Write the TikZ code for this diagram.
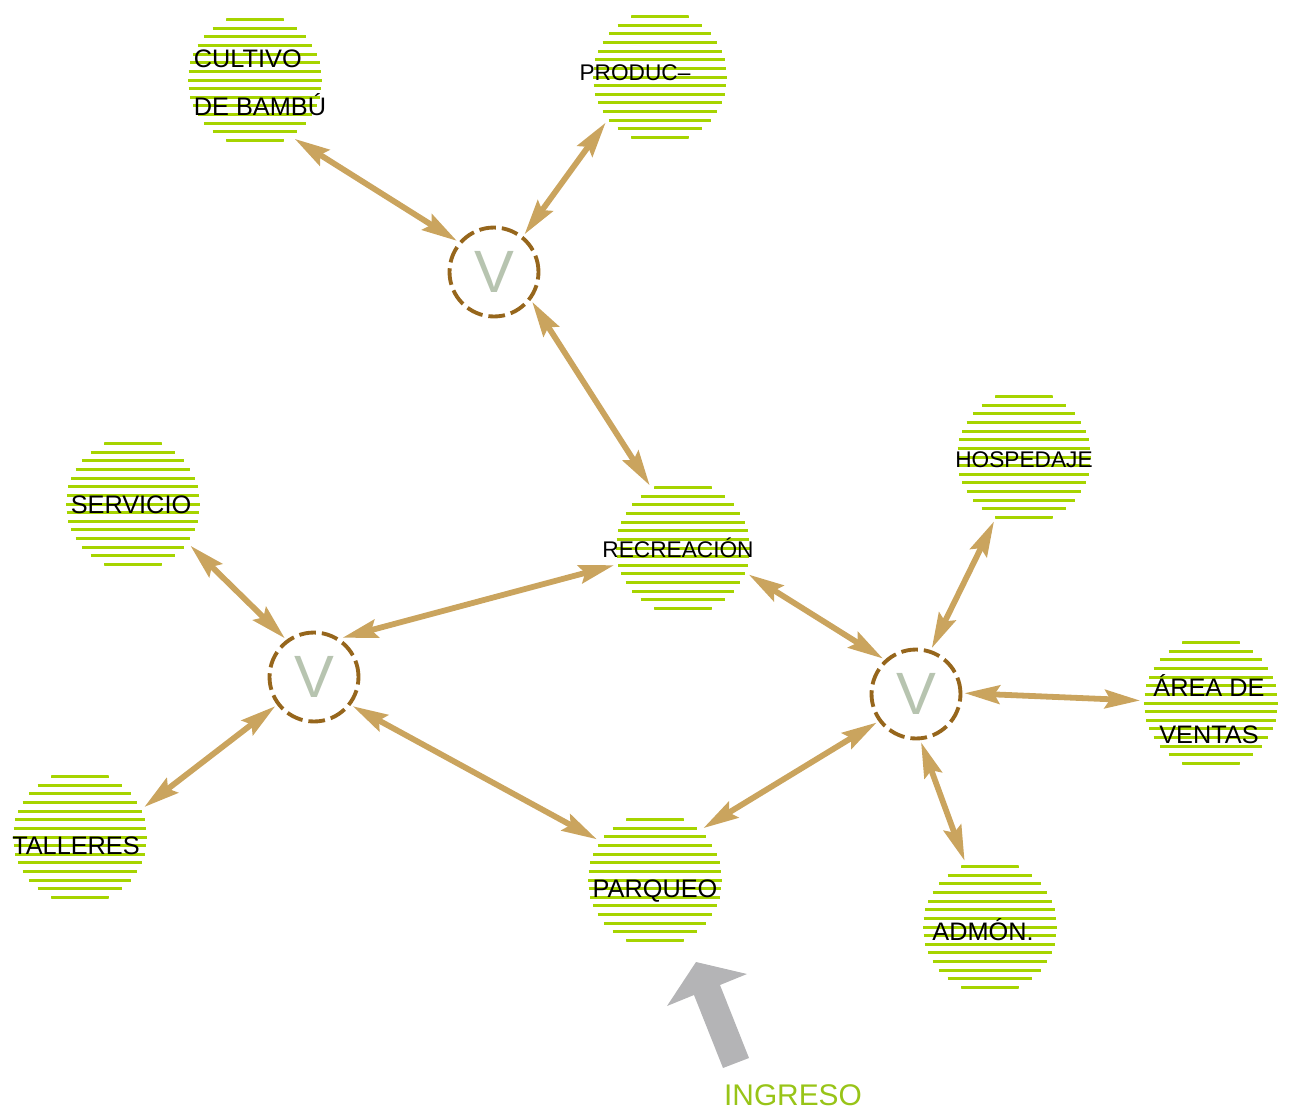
\documentclass[tikz,border=0pt]{standalone}
\usepackage{fontspec}
\setmainfont{Liberation Sans}
\usepackage{tikz}
\usetikzlibrary{arrows.meta,calc}

\definecolor{rayado}{RGB}{166,212,0}
\definecolor{verdetxt}{RGB}{152,196,24}
\definecolor{enlace}{RGB}{202,164,94}
\definecolor{nudo}{RGB}{150,102,28}
\definecolor{letrav}{RGB}{183,196,176}
\definecolor{gris}{RGB}{180,180,182}

\tikzset{
  zona/.style={circle,minimum size=2.72cm,inner sep=0pt,outer sep=0.06cm,
    path picture={
      \foreach \k in {-7,...,7}{
        \pgfmathsetmacro\hw{sqrt(67*67-(8.65*\k)*(8.65*\k))}
        \draw[rayado,line width=1.7pt]
          ($(path picture bounding box.center)+(-\hw,8.65*\k)$) --
          ($(path picture bounding box.center)+(\hw,8.65*\k)$);
      }}},
  vnudo/.style={circle,draw=nudo,line width=2.2pt,dash pattern=on 9.5pt off 3.4pt,
    minimum size=1.78cm,inner sep=0pt,outer sep=0.08cm,text=letrav,
    font=\fontsize{34}{34}\selectfont},
  rotulo/.style={font=\fontsize{14.4}{27}\selectfont,inner sep=0pt},
  rotulo chico/.style={font=\fontsize{12.9}{15}\selectfont,inner sep=0pt,anchor=base},
  via/.style={draw=enlace,line width=3.3pt,
    {Stealth[length=20pt,width=10.5pt,inset=3pt]}-{Stealth[length=20pt,width=10.5pt,inset=3pt]}}
}

\begin{document}
\begin{tikzpicture}[x=0.02cm,y=-0.02cm]
\useasboundingbox (0,0) rectangle (1289,1117);
% zones
\node[zona] (cultivo) at (255,80) {};
\node[zona] (produc) at (660,77) {};
\node[zona] (hosped) at (1024,457) {};
\node[zona] (servicio) at (133,504) {};
\node[zona] (recrea) at (683,548) {};
\node[zona] (ventas) at (1211,703) {};
\node[zona] (talleres) at (80,837) {};
\node[zona] (parqueo) at (655,880) {};
\node[zona] (admon) at (990,927) {};
% zone names
\node[rotulo,align=left] (t-cultivo) at (260,83) {CULTIVO\\DE BAMBÚ};
\node[rotulo chico] (t-produc) at (635,80) {PRODUC\textendash};
\node[rotulo chico] (t-hosped) at (1024,467) {HOSPEDAJE};
\node[rotulo chico] (t-recrea) at (678,557) {RECREACIÓN};
\node[rotulo,anchor=base] (t-servicio) at (131,513) {SERVICIO};
\node[rotulo,align=center] (t-ventas) at (1209,709) {ÁREA DE\\VENTAS};
\node[rotulo,anchor=base] (t-talleres) at (76,854) {TALLERES};
\node[rotulo,anchor=base] (t-parqueo) at (655,897) {PARQUEO};
\node[rotulo,anchor=base] (t-admon) at (983,940) {ADMÓN.};
% distribution nodes
\node[vnudo] (vsup) at (494,272) {V};
\node[vnudo] (vizq) at (314,677) {V};
\node[vnudo] (vder) at (916,694) {V};
% links
\draw[via] (cultivo.-56) -- (vsup.140);
\draw[via] (produc.-140) -- (vsup.51);
\draw[via] (vsup.-38) -- (recrea.118);
\draw[via] (servicio.-36) -- (vizq.127);
\draw[via] (vizq.54) -- (recrea.194);
\draw[via] (vizq.217) -- (talleres.25);
\draw[via] (vizq.-37) -- (parqueo.145);
\draw[via] (recrea.-22) -- (vder.133);
\draw[via] (hosped.245) -- (vder.71);
\draw[via] (vder.1) -- (ventas.178);
\draw[via] (parqueo.47) -- (vder.216);
\draw[via] (vder.-84) -- (admon.111);
% entrance
\fill[gris] (696,962) -- (747,974) -- (720,985) -- (749,1058) -- (723,1068)
  -- (694,995) -- (667,1006) -- cycle;
\node[font=\fontsize{17}{20}\selectfont,text=verdetxt,anchor=base,inner sep=0pt]
  (ingreso) at (793,1105) {INGRESO};
\end{tikzpicture}
\end{document}
